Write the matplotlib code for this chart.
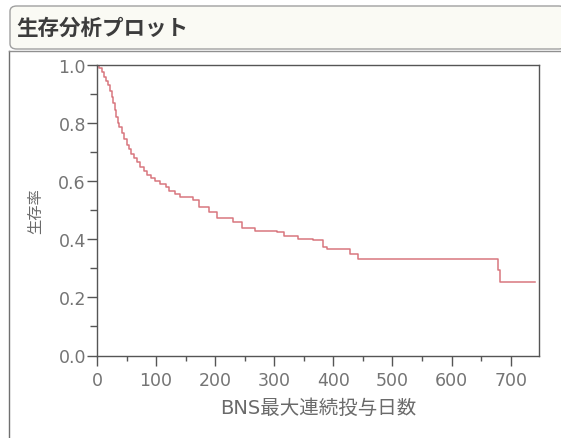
import matplotlib.pyplot as plt
from matplotlib.patches import FancyBboxPatch
from matplotlib.lines import Line2D
from matplotlib.ticker import MultipleLocator

# 英数字は DejaVu Sans、日本語は Noto Sans CJK JP で表示
plt.rcParams['font.family'] = ['DejaVu Sans', 'Noto Sans CJK JP']

# Kaplan-Meier 推定値 (イベント発生日, その後の生存率)
days = [0, 4, 8, 12, 16, 19, 22, 25, 27, 30, 32, 35, 38, 42, 46, 50, 54, 58,
        63, 68, 73, 79, 85, 91, 98, 107, 117, 121, 132, 140, 162, 172, 189,
        203, 231, 245, 267, 305, 316, 340, 365, 382, 390, 428, 442, 679, 682,
        741]
surv = [1.0, 0.99, 0.975, 0.96, 0.945, 0.93, 0.91, 0.89, 0.87, 0.845, 0.82,
        0.80, 0.785, 0.765, 0.745, 0.725, 0.71, 0.695, 0.68, 0.665, 0.65,
        0.635, 0.62, 0.61, 0.60, 0.59, 0.58, 0.567, 0.557, 0.547, 0.535,
        0.51, 0.495, 0.475, 0.46, 0.44, 0.43, 0.425, 0.413, 0.402, 0.396,
        0.375, 0.365, 0.35, 0.333, 0.295, 0.254, 0.254]

xticks = [0, 100, 200, 300, 400, 500, 600, 700]
yticks = [0.0, 0.2, 0.4, 0.6, 0.8, 1.0]

fig = plt.figure(figsize=(5.61, 4.39), dpi=100)

# タイトル枠
title_box = FancyBboxPatch((10 / 561, 1 - 50 / 439), 0.99, 43 / 439,
                           boxstyle="round,pad=0,rounding_size=0.012",
                           transform=fig.transFigure, facecolor="#fafaf4",
                           edgecolor="#a0a0a0", linewidth=1.0)
fig.patches.append(title_box)
fig.text(16 / 561, 1 - 28 / 439, "生存分析プロット", fontsize=15.5,
         fontweight="bold", color="#3c3c3c", va="center", ha="left",
         family=['Noto Sans CJK JP', 'DejaVu Sans'])

# 外枠 (左と上)
fig.lines.append(Line2D([9 / 561, 9 / 561], [0, 1 - 52 / 439],
                        transform=fig.transFigure, color="#707070", lw=1.0))
fig.lines.append(Line2D([9 / 561, 1], [1 - 52 / 439, 1 - 52 / 439],
                        transform=fig.transFigure, color="#909090", lw=1.0))

ax = fig.add_axes([97 / 561, 1 - 356.5 / 439, 442 / 561, 290.5 / 439])
ax.step(days, surv, where="post", color="#d8767e", lw=1.1)

ax.set_xlim(0, 748)
ax.set_ylim(0, 1.0)
ax.set_xticks(xticks)
ax.set_yticks(yticks)
ax.set_yticklabels([f"{v:.1f}" for v in yticks])
ax.xaxis.set_minor_locator(MultipleLocator(50))
ax.yaxis.set_minor_locator(MultipleLocator(0.1))

for s in ax.spines.values():
    s.set_color("#555555")
    s.set_linewidth(1.0)

ax.tick_params(which="major", direction="out", length=7.5, width=1.0,
               color="#555555", labelcolor="#747474", labelsize=12.5)
ax.tick_params(axis="x", which="major", pad=4)
ax.tick_params(axis="y", which="major", pad=0.5)
ax.tick_params(axis="y", which="minor", direction="out", length=5,
               width=1.0, color="#555555")
ax.tick_params(axis="x", which="minor", direction="out", length=3.5,
               width=1.0, color="#555555")

ax.set_xlabel("BNS最大連続投与日数", fontsize=14, color="#6a6a6a",
              labelpad=6)
ax.set_ylabel("生存率", fontsize=11, color="#6a6a6a", labelpad=11)

fig.savefig("out.png", dpi=100)
